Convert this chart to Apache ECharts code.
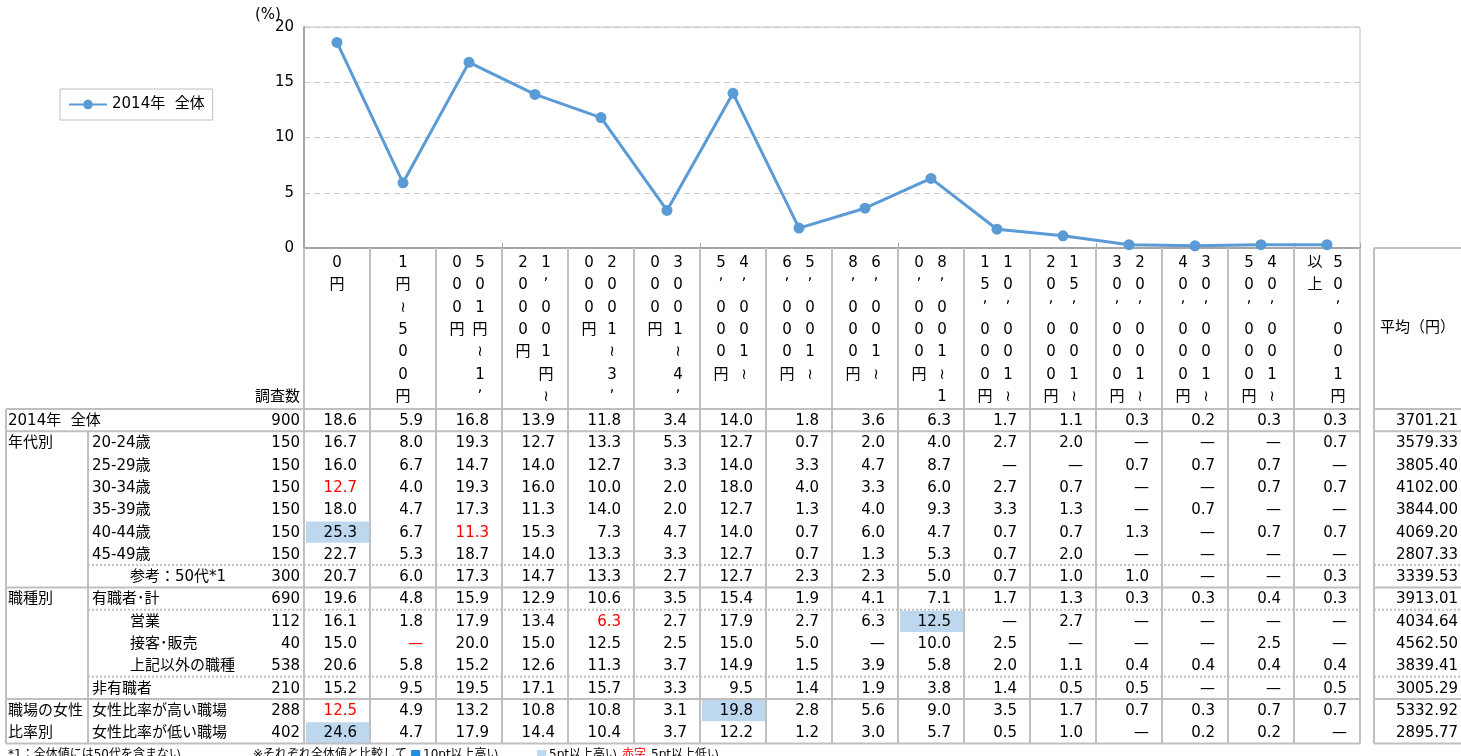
<!DOCTYPE html>
<html>
<head>
<meta charset="utf-8">
<script src="https://cdn.jsdelivr.net/npm/echarts@6/dist/echarts.min.js"></script>
<style>
  html, body { margin: 0; padding: 0; background: #fff; }
  #main { width: 1461px; height: 756px; }
</style>
</head>
<body>
<div id="main"></div>
<script>
// ---- data ----
const categories = ['0円', '1円～500円', '501円～1,000円', '1,001円～2,000円', '2,001円～3,000円',
  '3,001円～4,000円', '4,001円～5,000円', '5,001円～6,000円', '6,001円～8,000円', '8,001円～10,000円',
  '10,001円～15,000円', '15,001円～20,000円', '20,001円～30,000円', '30,001円～40,000円',
  '40,001円～50,000円', '50,001円以上']
// header cells as they are laid out (vertical writing, two sub columns)
const headerRows = [
  ['0', '円'],
  ['1', '円', '≀', '5', '0', '0', '円'],
  ['05', '00', '01', '円円', ' ≀', ' 1', ' ʼ'],
  ['21', '0ʼ', '00', '00', '円1', ' 円', ' ≀'],
  ['02', '00', '00', '円1', ' ≀', ' 3', ' ʼ'],
  ['03', '00', '00', '円1', ' ≀', ' 4', ' ʼ'],
  ['54', 'ʼʼ', '00', '00', '01', '円≀'],
  ['65', 'ʼʼ', '00', '00', '01', '円≀'],
  ['86', 'ʼʼ', '00', '00', '01', '円≀'],
  ['08', 'ʼʼ', '00', '00', '01', '円≀', ' 1'],
  ['11', '50', 'ʼʼ', '00', '00', '01', '円≀'],
  ['21', '05', 'ʼʼ', '00', '00', '01', '円≀'],
  ['32', '00', 'ʼʼ', '00', '00', '01', '円≀'],
  ['43', '00', 'ʼʼ', '00', '00', '01', '円≀'],
  ['54', '00', 'ʼʼ', '00', '00', '01', '円≀'],
  ['以5', '上0', ' ʼ', ' 0', ' 0', ' 1', ' 円']
]
const seriesName = '2014年  全体'
const overall = [18.6, 5.9, 16.8, 13.9, 11.8, 3.4, 14.0, 1.8, 3.6, 6.3, 1.7, 1.1, 0.3, 0.2, 0.3, 0.3]

const rowLabels = ['2014年  全体', '20-24歳', '25-29歳', '30-34歳', '35-39歳', '40-44歳', '45-49歳',
  '参考：50代*1', '有職者･計', '営業', '接客･販売', '上記以外の職種', '非有職者',
  '女性比率が高い職場', '女性比率が低い職場']
const indentRows = [7, 9, 10, 11]
const groupLabels = [[1, '年代別'], [8, '職種別'], [13, '職場の女性'], [14, '比率別']]
const sampleSizes = [900, 150, 150, 150, 150, 150, 150, 300, 690, 112, 40, 538, 210, 288, 402]
const N = null
const rowValues = [
  overall,
  [16.7, 8.0, 19.3, 12.7, 13.3, 5.3, 12.7, 0.7, 2.0, 4.0, 2.7, 2.0, N, N, N, 0.7],
  [16.0, 6.7, 14.7, 14.0, 12.7, 3.3, 14.0, 3.3, 4.7, 8.7, N, N, 0.7, 0.7, 0.7, N],
  [12.7, 4.0, 19.3, 16.0, 10.0, 2.0, 18.0, 4.0, 3.3, 6.0, 2.7, 0.7, N, N, 0.7, 0.7],
  [18.0, 4.7, 17.3, 11.3, 14.0, 2.0, 12.7, 1.3, 4.0, 9.3, 3.3, 1.3, N, 0.7, N, N],
  [25.3, 6.7, 11.3, 15.3, 7.3, 4.7, 14.0, 0.7, 6.0, 4.7, 0.7, 0.7, 1.3, N, 0.7, 0.7],
  [22.7, 5.3, 18.7, 14.0, 13.3, 3.3, 12.7, 0.7, 1.3, 5.3, 0.7, 2.0, N, N, N, N],
  [20.7, 6.0, 17.3, 14.7, 13.3, 2.7, 12.7, 2.3, 2.3, 5.0, 0.7, 1.0, 1.0, N, N, 0.3],
  [19.6, 4.8, 15.9, 12.9, 10.6, 3.5, 15.4, 1.9, 4.1, 7.1, 1.7, 1.3, 0.3, 0.3, 0.4, 0.3],
  [16.1, 1.8, 17.9, 13.4, 6.3, 2.7, 17.9, 2.7, 6.3, 12.5, N, 2.7, N, N, N, N],
  [15.0, N, 20.0, 15.0, 12.5, 2.5, 15.0, 5.0, N, 10.0, 2.5, N, N, N, 2.5, N],
  [20.6, 5.8, 15.2, 12.6, 11.3, 3.7, 14.9, 1.5, 3.9, 5.8, 2.0, 1.1, 0.4, 0.4, 0.4, 0.4],
  [15.2, 9.5, 19.5, 17.1, 15.7, 3.3, 9.5, 1.4, 1.9, 3.8, 1.4, 0.5, 0.5, N, N, 0.5],
  [12.5, 4.9, 13.2, 10.8, 10.8, 3.1, 19.8, 2.8, 5.6, 9.0, 3.5, 1.7, 0.7, 0.3, 0.7, 0.7],
  [24.6, 4.7, 17.9, 14.4, 10.4, 3.7, 12.2, 1.2, 3.0, 5.7, 0.5, 1.0, N, 0.2, 0.2, N]
]
const averages = ['3701.21', '3579.33', '3805.40', '4102.00', '3844.00', '4069.20', '2807.33', '3339.53',
  '3913.01', '4034.64', '4562.50', '3839.41', '3005.29', '5332.92', '2895.77']
const redCells = [[3, 0], [5, 2], [9, 4], [10, 1], [13, 0]]       // 5pt以上低い
const blueCells = [[5, 0], [9, 9], [13, 6], [14, 0]]             // 5pt以上高い
// row boundaries: [row index, kind]
const rowRules = [[0, 'solid'], [1, 'solid'], [7, 'dash'], [8, 'solid'], [9, 'dash'], [12, 'dash'], [13, 'solid'], [15, 'solid']]

// ---- layout ----
const FONT = "'DejaVu Sans', 'Noto Sans CJK JP', sans-serif"
const GRID_L = 304, COL_W = 66, NCOL = 16
const PLOT_TOP = 27, AXIS_Y = 248
const HEAD_BOTTOM = 409, ROW_H = 22.3
const TABLE_R = GRID_L + COL_W * NCOL
const AVG_X = 1374
const BORDER = '#bfbfbf'

const rowY = r => HEAD_BOTTOM + r * ROW_H
const txt = (x, y, s, opt) => ({
  type: 'text', z: 20, silent: true,
  style: Object.assign({ x: x, y: y, text: s, font: '15px ' + FONT, fill: '#000', align: 'left', verticalAlign: 'middle' }, opt || {})
})
const ln = (x1, y1, x2, y2, w, dash) => ({
  type: 'line', z: 15, silent: true,
  shape: { x1: x1, y1: y1, x2: x2, y2: y2 },
  style: { stroke: BORDER, lineWidth: w || 1, lineDash: dash || null }
})

let g = []
// header
headerRows.forEach((rows, c) => {
  let cx = GRID_L + COL_W * (c + 0.5)
  rows.forEach((s, k) => {
    let y = 263 + k * 22.4
    if (s.length === 1) {
      g.push(txt(cx, y, s, { align: 'center' }))
    } else {
      if (s[0] !== ' ') g.push(txt(cx - 12, y, s[0], { align: 'center' }))
      if (s[1] !== ' ') g.push(txt(cx + 11, y, s[1], { align: 'center' }))
    }
  })
})
g.push(txt(300, 397, '調査数', { align: 'right' }))
g.push(txt(1380, 328, '平均（円）'))

// highlighted cells
blueCells.forEach(([r, c]) => {
  g.push({ type: 'rect', z: 5, silent: true,
    shape: { x: GRID_L + COL_W * c + 2, y: rowY(r) + 1, width: COL_W - 3, height: ROW_H - 1 },
    style: { fill: '#bdd7ee' } })
})

// body
rowLabels.forEach((lab, r) => {
  let y = rowY(r) + ROW_H / 2 + 1
  let x = r === 0 ? 8 : (indentRows.includes(r) ? 130 : 92)
  g.push(txt(x, y, lab))
  g.push(txt(300, y, String(sampleSizes[r]), { align: 'right' }))
  rowValues[r].forEach((v, c) => {
    let red = redCells.some(p => p[0] === r && p[1] === c)
    g.push(txt(GRID_L + COL_W * (c + 1) - 13, y, v === null ? '—' : v.toFixed(1),
      { align: 'right', fill: red ? '#ff0000' : '#000' }))
  })
  g.push(txt(1458, y, averages[r], { align: 'right' }))
})
groupLabels.forEach(([r, s]) => g.push(txt(8, rowY(r) + ROW_H / 2 + 1, s)))

// table rules
rowRules.forEach(([r, kind]) => {
  let y = rowY(r)
  if (kind === 'solid') {
    g.push(ln(6, y, TABLE_R, y, 2))
    g.push(ln(AVG_X, y, 1461, y, 2))
  } else {
    g.push(ln(88, y, TABLE_R, y, 2, [2, 2]))
    g.push(ln(AVG_X, y, 1461, y, 2, [2, 2]))
  }
})
const bottom = rowY(15)
g.push(ln(6, rowY(0), 6, bottom, 2))
g.push(ln(88, rowY(1), 88, bottom, 2))
for (let i = 0; i <= NCOL; i++) {
  let x = GRID_L + COL_W * i
  g.push(ln(x, AXIS_Y, x, bottom, 2))
}
g.push(ln(AVG_X, AXIS_Y, AVG_X, bottom, 2))
g.push(ln(AVG_X, AXIS_Y, 1461, AXIS_Y, 2))

// axis unit + footnotes
g.push(txt(255, 15, '(%)'))
const foot = { font: '12px ' + FONT }
g.push(txt(8, 755, '*1：全体値には50代を含まない', foot))
g.push(txt(253, 755, '※それぞれ全体値と比較して', foot))
g.push(txt(410, 755, '■', Object.assign({}, foot, { fill: '#1e90e8' })))
g.push(txt(423, 755, '10pt以上高い', foot))
g.push(txt(536, 755, '■', Object.assign({}, foot, { fill: '#bdd7ee' })))
g.push(txt(549, 755, '5pt以上高い', foot))
g.push(txt(622, 755, '赤字', Object.assign({}, foot, { fill: '#ff0000' })))
g.push(txt(651, 755, '5pt以上低い', foot))

// ---- chart ----
let chart = echarts.init(document.getElementById('main'))
let option = {
  animation: false,
  textStyle: { fontFamily: FONT },
  grid: {
    left: GRID_L, right: 1461 - TABLE_R, top: PLOT_TOP, bottom: 756 - AXIS_Y,
    show: true, borderColor: BORDER, borderWidth: 1
  },
  legend: {
    left: 60, top: 89,
    data: [seriesName],
    padding: [8, 8, 8, 8],
    borderColor: BORDER, borderWidth: 1,
    itemWidth: 38, itemHeight: 12,
    textStyle: { fontFamily: FONT, fontSize: 15, color: '#000' }
  },
  xAxis: {
    type: 'category',
    data: categories,
    boundaryGap: true,
    axisLine: { lineStyle: { color: '#a6a6a6', width: 2 } },
    axisTick: { show: true, inside: true, length: 5, lineStyle: { color: '#a6a6a6' } },
    axisLabel: { show: false }
  },
  yAxis: {
    type: 'value',
    min: 0, max: 20, interval: 5,
    axisLine: { show: true, lineStyle: { color: '#a6a6a6', width: 2 } },
    axisTick: { show: false },
    axisLabel: { fontSize: 15, color: '#000', margin: 10, fontFamily: FONT },
    splitLine: { lineStyle: { color: '#c8c8c8', type: [6, 4] } }
  },
  series: [{
    name: seriesName,
    type: 'line',
    data: overall,
    symbol: 'circle',
    symbolSize: 11,
    color: '#5b9bd5',
    lineStyle: { width: 3, color: '#5b9bd5' },
    itemStyle: { color: '#5b9bd5' }
  }],
  graphic: g
}
chart.setOption(option)
</script>
</body>
</html>
